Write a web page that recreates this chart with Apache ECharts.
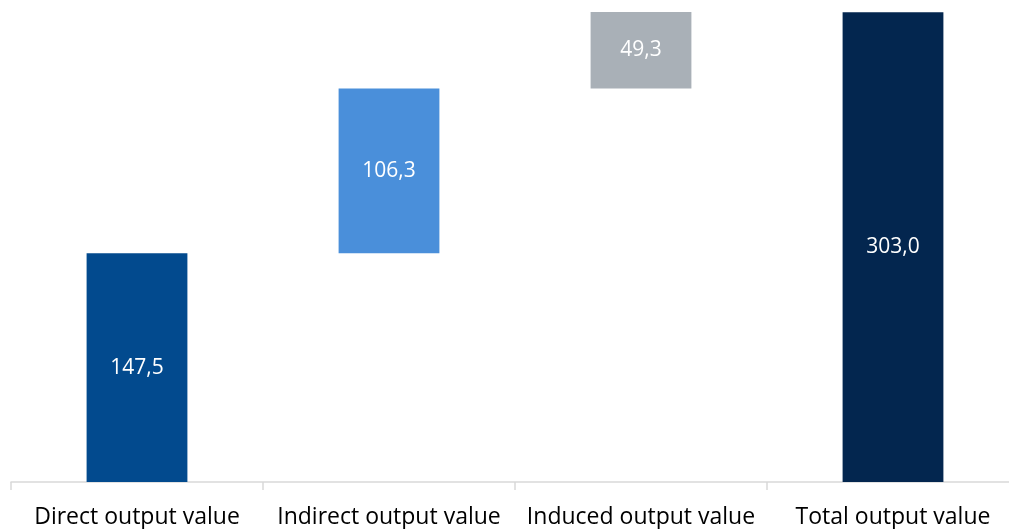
<!DOCTYPE html>
<html>
<head>
<meta charset="utf-8">
<script src="https://cdn.jsdelivr.net/npm/echarts@6/dist/echarts.min.js"></script>
<style>html,body{margin:0;padding:0;background:#fff;overflow:hidden;}#c{width:1020px;height:529px;}</style>
</head>
<body>
<div id="c"></div>
<script>
const categories = ['Direct output value', 'Indirect output value', 'Induced output value', 'Total output value'];
const values = [147.5, 106.3, 49.3, 303.0];
const isTotal = [false, false, false, true];
const colors = ['#024A8E', '#4A8FDA', '#A9B0B7', '#03264F'];

// invisible base offsets for the waterfall, derived from the values
const bases = [];
let run = 0;
values.forEach((v, i) => {
  if (isTotal[i]) { bases.push(0); }
  else { bases.push(run); run += v; }
});

const chart = echarts.init(document.getElementById('c'));
chart.setOption({
  animation: false,
  grid: { left: 11, right: 1, top: 12, bottom: 45.5, containLabel: false },
  xAxis: {
    type: 'category',
    data: categories,
    axisLine: { lineStyle: { color: '#D9D9D9', width: 1.5 } },
    axisTick: { show: true, length: 8, lineStyle: { color: '#D9D9D9', width: 1.5 } },
    axisLabel: { color: '#000', fontSize: 23, fontFamily: 'Open Sans', margin: 24, interval: 0 }
  },
  yAxis: {
    type: 'value', min: 0, max: 303.1, show: false,
    splitLine: { show: false }
  },
  series: [
    {
      type: 'bar', stack: 'w', data: bases,
      itemStyle: { color: 'transparent' }, barCategoryGap: '60%', silent: true
    },
    {
      type: 'bar', stack: 'w', barCategoryGap: '60%',
      data: values.map((v, i) => ({ value: v, itemStyle: { color: colors[i] } })),
      label: {
        show: true, position: 'inside', color: '#fff', fontSize: 21, fontFamily: 'Open Sans',
        formatter: p => p.value.toFixed(1).replace('.', ',')
      }
    }
  ]
});
</script>
</body>
</html>
